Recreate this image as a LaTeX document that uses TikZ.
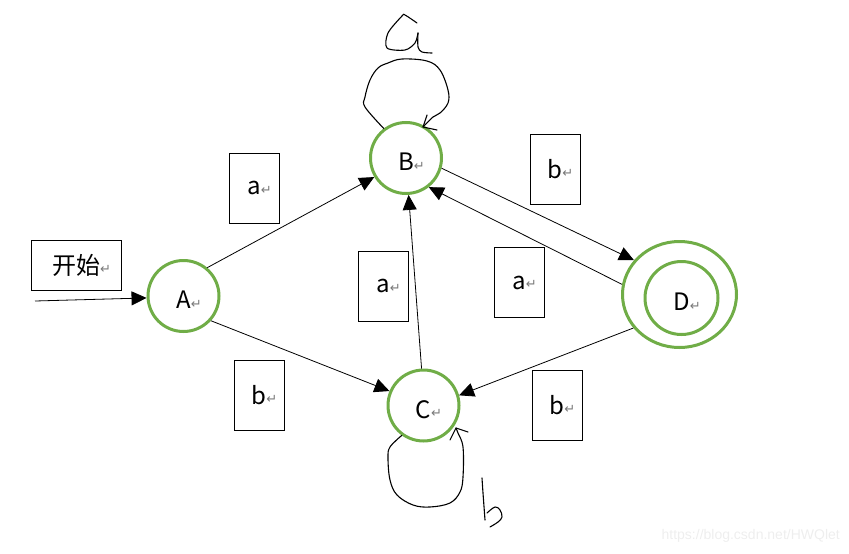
\documentclass[tikz,border=0pt]{standalone}
\usepackage{fontspec}
\setmainfont{Noto Sans CJK SC}
\newfontfamily\symfont{DejaVu Sans}
\newfontfamily\wmfont{Liberation Sans}
\usetikzlibrary{arrows.meta,shapes.geometric}
\definecolor{stgreen}{RGB}{112,173,71}
\definecolor{wmgray}{RGB}{238,238,238}
\definecolor{retgray}{RGB}{120,120,120}
\newcommand{\retmark}{{\symfont\fontsize{13}{13}\selectfont\color{retgray}\raisebox{0.5pt}{↵}}}
\newcommand{\lbltext}[1]{\hphantom{\retmark}#1\retmark}
\tikzset{
  st/.style={circle, draw=stgreen, line width=3pt, minimum size=71pt, inner sep=0pt,
    text height=25pt, text depth=0pt, font=\fontsize{24}{27}\selectfont},
  lbl/.style={draw, line width=0.8pt, minimum width=50pt, minimum height=70pt, inner sep=0pt,
    font=\fontsize{24}{27}\selectfont},
  conn/.style={line width=0.8pt, -{Triangle[length=15pt,width=14pt]}},
  hand/.style={line width=1.1pt, line join=round, line cap=round},
}
\begin{document}
\begin{tikzpicture}[x=1pt, y=-1pt]
\useasboundingbox (0,0) rectangle (849,554);
% states
\node[st] (A) at (183.5,296) {\lbltext{A}};
\node[st] (B) at (406,158) {\lbltext{B}};
\node[st] (C) at (423.5,405.5) {\lbltext{C}};
\node[ellipse, draw=stgreen, line width=3pt, minimum width=114pt, minimum height=106pt] (D) at (679.5,294.5) {};
\node[st, minimum size=73pt] (Din) at (681.5,298) {\lbltext{D}};
% label boxes
\node[lbl, minimum width=90pt, minimum height=50pt] (start) at (76,265) {\lbltext{开始}};
\node[lbl] (la1) at (254,188) {\lbltext{a}};
\node[lbl] (la2) at (383,286) {\lbltext{a}};
\node[lbl] (la3) at (519,282.5) {\lbltext{a}};
\node[lbl] (lb1) at (555,169) {\lbltext{b}};
\node[lbl] (lb2) at (259,395) {\lbltext{b}};
\node[lbl] (lb3) at (557,405) {\lbltext{b}};
% connectors
\coordinate (s0) at (35,301);
\draw[conn] (s0) -- (A.183);
\draw[conn] (A.50) -- (B.211);
\draw[conn] (A.318) -- (C.157);
\draw[conn] (C.93) -- (B.274);
\draw[conn] (B.344) -- (D.143);
\draw[conn] (D.170) -- (B.308);
\draw[conn] (D.216) -- (C.16);
% hand-drawn loop on B
\draw[hand] plot[smooth, tension=0.6] coordinates {(B.127) (365,107) (365,97) (370,80) (378,68) (388,63) (402,59) (427,61) (440,70) (448,90) (448,103) (440,113) (433,117) (423,127)};
\draw[hand] (427,115) -- (423,127) -- (437,130);
% handwritten a
\draw[hand] plot[smooth, tension=0.5] coordinates {(417,23) (405,15) (402,16) (388,33) (387,48) (405,50) (415,43) (418,33)};
\draw[hand] plot[smooth, tension=0.5] coordinates {(418,33) (418,47) (422,52) (432,53)};
% hand-drawn loop on C
\draw[hand] plot[smooth, tension=0.6] coordinates {(C.234) (390,447) (388,458) (390,480) (397,495) (413,505) (430,507) (450,503) (460,492) (463,477) (463,447) (458,433) (456,428)};
\draw[hand] (450,440) -- (456,428) -- (468,432);
% handwritten b
\draw[hand] plot[smooth, tension=0.5] coordinates {(482,478) (483,493) (485,520)};
\draw[hand] plot[smooth, tension=0.6] coordinates {(487,513) (495,507) (500,510) (502,517) (498,522) (490,527)};
% watermark
\node[font=\wmfont\fontsize{14}{14}\selectfont, text=wmgray, anchor=east, inner sep=0pt] (wm) at (840,536) {https://blog.csdn.net/HWQlet};
\end{tikzpicture}
\end{document}
